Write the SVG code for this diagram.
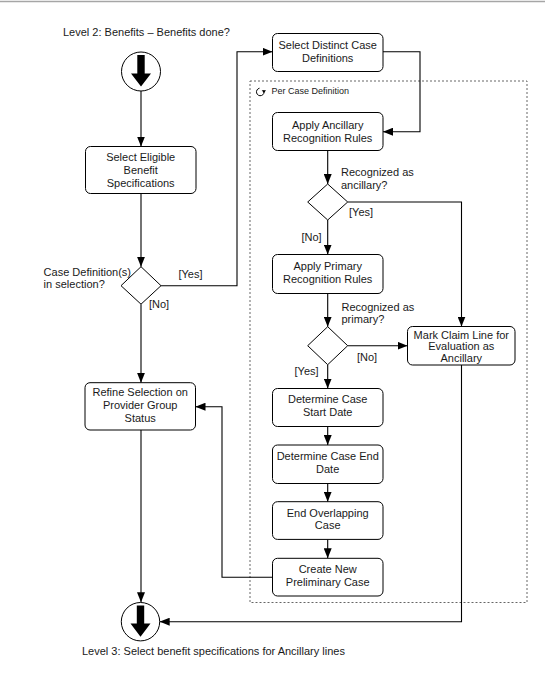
<svg xmlns="http://www.w3.org/2000/svg" width="545" height="682" viewBox="0 0 545 682">
<defs>
<marker id="ah" markerUnits="userSpaceOnUse" markerWidth="10" markerHeight="8" refX="10" refY="4" orient="auto">
<path d="M0,0 L10,4 L0,8 z" fill="#000"/>
</marker>
<style>
.t{font-family:"Liberation Sans",Arial,sans-serif;font-size:11px;fill:#1a1a1a}
.c{text-anchor:middle}
.box{fill:#fff;stroke:#000;stroke-width:1}
.dia{fill:#fff;stroke:#000;stroke-width:1}
.con{fill:none;stroke:#000;stroke-width:1.1;marker-end:url(#ah)}
.term{fill:#fff;stroke:#000;stroke-width:1}
</style>
</defs>
<rect x="0" y="0" width="545" height="682" fill="#fff"/>
<line x1="0" y1="1.5" x2="545" y2="1.5" stroke="#a6a6a6" stroke-width="1.5"/>

<g id="loop-region">
<rect x="250" y="81" width="277" height="521.5" fill="none" stroke="#666" stroke-width="1" stroke-dasharray="2,2"/>
<path d="M263.8,90.5 A3.8,3.8 0 1 1 259.5,88.2" fill="none" stroke="#000" stroke-width="1"/>
<path d="M261.7,90.3 L266,90.3 L263.9,93 z" fill="#000"/>
<text class="t" x="271.5" y="94" style="font-size:9px">Per Case Definition</text>
</g>

<g id="connectors">
<path class="con" d="M141,91 V146.5"/>
<path class="con" d="M141,193.5 V266.7"/>
<path class="con" d="M161,285.7 H237 V51.7 H272.5"/>
<path class="con" d="M141,304.2 V382.7"/>
<path class="con" d="M383,51.7 H420 V131.7 H383"/>
<path class="con" d="M327.7,150.5 V184"/>
<path class="con" d="M347.7,202 H461.5 V326.5"/>
<path class="con" d="M327.7,220 V254.5"/>
<path class="con" d="M327.7,293.5 V326.7"/>
<path class="con" d="M347.7,345.7 H407.5"/>
<path class="con" d="M327.7,364.7 V388.5"/>
<path class="con" d="M327.7,426.5 V445"/>
<path class="con" d="M327.7,483.5 V501.7"/>
<path class="con" d="M327.7,539.4 V558.3"/>
<path class="con" d="M272.5,577.3 H222 V406.7 H195.5"/>
<path class="con" d="M141,430 V602.3"/>
<path class="con" d="M461.5,365 V621.7 H159.7"/>
</g>

<g id="start">
<circle class="term" cx="141" cy="71.5" r="19.5"/>
<path d="M137.3,55 H144.7 V73.5 H151 L141,86.5 L131,73.5 H137.3 z" fill="#000"/>
<text class="t" x="63" y="36">Level 2: Benefits – Benefits done?</text>
</g>

<g id="select-eligible">
<rect class="box" x="85.5" y="146.5" width="110.5" height="47" rx="5"/>
<text class="t c" x="140.7" y="160.5">Select Eligible</text>
<text class="t c" x="140.7" y="173.5">Benefit</text>
<text class="t c" x="140.7" y="186.5">Specifications</text>
</g>

<g id="case-def-decision">
<polygon class="dia" points="141,266.7 161,285.7 141,304.2 121,285.7"/>
<text class="t" x="43.6" y="275.7">Case Definition(s)</text>
<text class="t" x="43.6" y="287.5">in selection?</text>
<text class="t" x="178.4" y="277.7">[Yes]</text>
<text class="t" x="149" y="308.3">[No]</text>
</g>

<g id="refine">
<rect class="box" x="85" y="382.7" width="110.5" height="47.3" rx="5"/>
<text class="t c" x="140.2" y="396">Refine Selection on</text>
<text class="t c" x="140.2" y="409">Provider Group</text>
<text class="t c" x="140.2" y="421.7">Status</text>
</g>

<g id="end">
<circle class="term" cx="140.5" cy="621.7" r="19.2"/>
<path d="M136.8,605.5 H144.2 V623.5 H150.5 L140.5,636.7 L130.5,623.5 H136.8 z" fill="#000"/>
<text class="t" x="82" y="655">Level 3: Select benefit specifications for Ancillary lines</text>
</g>

<g id="select-distinct">
<rect class="box" x="272.5" y="33.5" width="110.5" height="38" rx="5"/>
<text class="t c" x="327.7" y="49">Select Distinct Case</text>
<text class="t c" x="327.7" y="61.5">Definitions</text>
</g>

<g id="apply-ancillary">
<rect class="box" x="272.5" y="112.5" width="110.5" height="38" rx="5"/>
<text class="t c" x="327.7" y="129">Apply Ancillary</text>
<text class="t c" x="327.7" y="141.5">Recognition Rules</text>
</g>

<g id="ancillary-decision">
<polygon class="dia" points="327.7,184 347.7,202 327.7,220 307.7,202"/>
<text class="t" x="341" y="176">Recognized as</text>
<text class="t" x="341" y="188.5">ancillary?</text>
<text class="t" x="349" y="216">[Yes]</text>
<text class="t" x="301.5" y="240.5">[No]</text>
</g>

<g id="apply-primary">
<rect class="box" x="272.5" y="254.5" width="110.5" height="39" rx="5"/>
<text class="t c" x="327.7" y="270">Apply Primary</text>
<text class="t c" x="327.7" y="282.7">Recognition Rules</text>
</g>

<g id="primary-decision">
<polygon class="dia" points="327.7,326.7 347.7,345.7 327.7,364.7 307.7,345.7"/>
<text class="t" x="341.5" y="310.7">Recognized as</text>
<text class="t" x="341.5" y="323.3">primary?</text>
<text class="t" x="357" y="360.7">[No]</text>
<text class="t" x="294.5" y="375.3">[Yes]</text>
</g>

<g id="mark-claim">
<rect class="box" x="407.5" y="326.5" width="107.5" height="38.5" rx="5"/>
<text class="t c" x="461.3" y="338.5">Mark Claim Line for</text>
<text class="t c" x="461.3" y="350.2">Evaluation as</text>
<text class="t c" x="461.3" y="361.9">Ancillary</text>
</g>

<g id="start-date">
<rect class="box" x="272.5" y="388.5" width="110.5" height="38" rx="5"/>
<text class="t c" x="327.7" y="403.3">Determine Case</text>
<text class="t c" x="327.7" y="416">Start Date</text>
</g>

<g id="end-date">
<rect class="box" x="272.5" y="445" width="110.5" height="38.5" rx="5"/>
<text class="t c" x="327.7" y="460">Determine Case End</text>
<text class="t c" x="327.7" y="472.7">Date</text>
</g>

<g id="end-overlapping">
<rect class="box" x="272.5" y="501.7" width="110.5" height="37.7" rx="5"/>
<text class="t c" x="327.7" y="516.7">End Overlapping</text>
<text class="t c" x="327.7" y="529.3">Case</text>
</g>

<g id="create-new">
<rect class="box" x="272.5" y="558.3" width="110.5" height="37.7" rx="5"/>
<text class="t c" x="327.7" y="573.3">Create New</text>
<text class="t c" x="327.7" y="586">Preliminary Case</text>
</g>
</svg>
